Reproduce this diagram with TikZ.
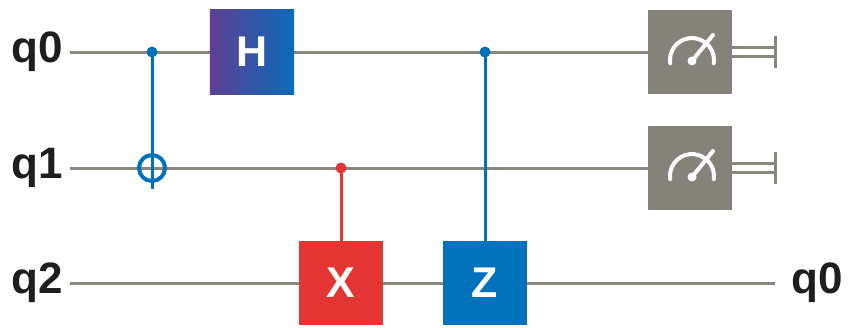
\documentclass[tikz,border=0pt]{standalone}
\usepackage{fontspec}
\setmainfont{Liberation Sans}
\begin{document}
\begin{tikzpicture}[x=1pt,y=-1pt,
  wire/.style={draw=wirecol,line width=3pt},
  gate/.style={minimum width=84pt,minimum height=84pt,inner sep=0pt,text=white,font=\fontsize{43}{43}\selectfont\bfseries},
  qlabel/.style={font=\fontsize{44}{44}\selectfont\bfseries,text=labelcol,inner sep=0pt},
  meter/.style={fill=boxgray,minimum width=84pt,minimum height=84pt,inner sep=0pt},
  ctrl/.style={circle,inner sep=0pt,minimum size=11pt},
  classical/.style={draw=wirecol,line width=3pt}
]
\definecolor{wirecol}{HTML}{8A867D}
\definecolor{boxgray}{HTML}{858279}
\definecolor{labelcol}{HTML}{1E1E1C}
\definecolor{hpurple}{HTML}{5E3F94}
\definecolor{hblue}{HTML}{0A6BB8}
\definecolor{xred}{HTML}{E53532}
\definecolor{zblue}{HTML}{0072BB}
\useasboundingbox (0,0) rectangle (852,327);

% labels
\node[qlabel,anchor=west] (l0) at (11,52) {q0};
\node[qlabel,anchor=west] (l1) at (11,168) {q1};
\node[qlabel,anchor=west] (l2) at (11,283) {q2};
\node[qlabel,anchor=west] (r2) at (791,283) {q0};

% wire endpoints
\coordinate (w0s) at (70,52);
\coordinate (w1s) at (70,168);
\coordinate (w2s) at (70,283);
\coordinate (w2e) at (775,283);

% gates
\node[gate] (H) at (252,52) {};
\node[gate,fill=xred] (X) at (341,283) {X};
\node[gate,fill=zblue] (Z) at (485,283) {Z};
\node[meter] (M0) at (690,52) {};
\node[meter] (M1) at (690,168) {};

% wires
\draw[wire] (w0s) -- (M0.west);
\draw[wire] (w1s) -- (M1.west);
\draw[wire] (w2s) -- (w2e);

% H gate with gradient
\shade[left color=hpurple,right color=hblue] (H.north west) rectangle (H.south east);
\node[gate] at (H) {H};
\fill[xred] (X.north west) rectangle (X.south east);
\node[gate] at (X) {X};
\fill[zblue] (Z.north west) rectangle (Z.south east);
\node[gate] at (Z) {Z};

% CNOT
\node[ctrl,fill=zblue] (c0) at (152,52) {};
\node[circle,draw=zblue,line width=4pt,minimum size=26pt,inner sep=0pt] (t1) at (152,168) {};
\coordinate (cb) at (152,189);
\draw[draw=zblue,line width=3pt] (c0.center) -- (cb);

% CX control
\node[ctrl,fill=xred] (c1) at (341,168) {};
\draw[draw=xred,line width=3pt] (c1.center) -- (X.north);

% CZ control
\node[ctrl,fill=zblue] (c2) at (485,52) {};
\draw[draw=zblue,line width=3pt] (c2.center) -- (Z.north);

% meters
\foreach \m in {M0,M1}{
  \fill[boxgray] (\m.north west) rectangle (\m.south east);
  \draw[white,line width=4pt,line cap=round] ([shift={(-19.8,11.1)}]\m.center) arc[start angle=172,end angle=368,radius=22];
  \draw[white,line width=4pt,line cap=round] ([shift={(2,9)}]\m.center) -- ([shift={(23,-17)}]\m.center);
  \fill[white] ([shift={(2,9)}]\m.center) circle (4.5);
}
% classical
\coordinate (k0a) at (775,47.5);
\coordinate (k0b) at (775,56.5);
\draw[classical] (M0.east |- k0a) -- (k0a);
\draw[classical] (M0.east |- k0b) -- (k0b);
\coordinate (b0t) at (775,36);
\coordinate (b0b) at (775,68);
\draw[classical] (b0t) -- (b0b);
\coordinate (k1a) at (775,163.5);
\coordinate (k1b) at (775,172.5);
\draw[classical] (M1.east |- k1a) -- (k1a);
\draw[classical] (M1.east |- k1b) -- (k1b);
\coordinate (b1t) at (775,152);
\coordinate (b1b) at (775,184);
\draw[classical] (b1t) -- (b1b);
\end{tikzpicture}
\end{document}
